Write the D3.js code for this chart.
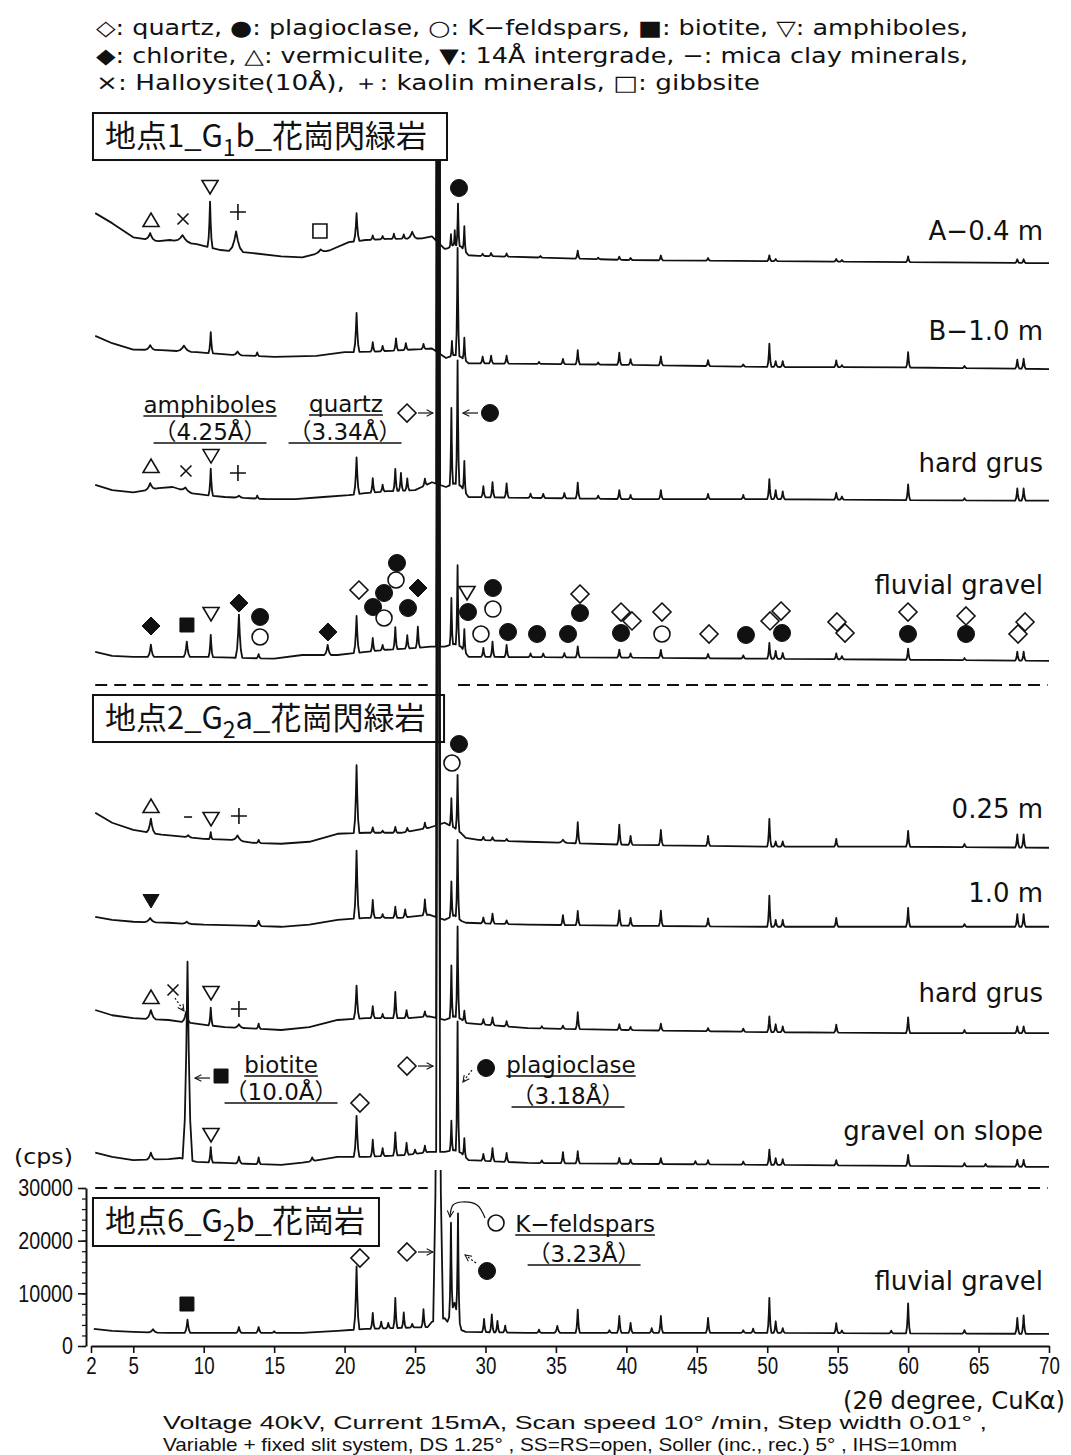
<!DOCTYPE html>
<html>
<head>
<meta charset="utf-8">
<title>XRD patterns</title>
<script src="https://cdn.jsdelivr.net/npm/d3@7/dist/d3.min.js"></script>
<style>
  html, body { margin: 0; padding: 0; background: #fff; }
  svg { display: block; }
</style>
</head>
<body>
<svg id="xrd" width="1071" height="1455"></svg>
<script>
// ---------- axis ticks ----------
const twoThetaTicks = [2, 5, 10, 15, 20, 25, 30, 35, 40, 45, 50, 55, 60, 65, 70];
const cpsTicks = [0, 10000, 20000, 30000];
const cpsMinorTicks = d3.range(0, 30001, 2000);

// ---------- samples (top to bottom) ----------
const sampleLabels = ["A−0.4 m", "B−1.0 m", "hard grus", "fluvial gravel",
                      "0.25 m", "1.0 m", "hard grus", "gravel on slope", "fluvial gravel"];
const sampleOffsets = [203300, 183200, 158300, 127800, 92300, 77300, 57100, 31700, 0];
const samplePanel = [0, 0, 0, 0, 1, 1, 1, 1, 2];

// background levels [2θ, cps]
const bgA = [[2.3,11800],[3.5,9900],[5.0,7200],[6.8,6500],[7.6,6700],[9.5,5900],[11.2,4800],[13.5,4200],[15.5,3600],[17.0,3400],[19.0,4800],[20.3,6300],[21.5,6700],[23.0,6900],[25.5,7000],[26.2,7400],[27.1,5000],[27.3,5100],[27.75,5800],[28.25,5500],[28.8,3800],[29.5,3700],[40,2900],[50,2700],[60,2500],[70,2300]];
const bgB = [[2.3,8600],[3.5,7200],[5.0,6000],[7.0,5900],[9.5,5500],[12,5000],[15,4600],[18,4800],[20,5500],[22,5600],[26.2,6200],[27.2,4400],[27.8,5000],[28.25,4600],[28.8,3400],[40,3100],[50,2700],[60,2600],[70,2300]];
const bgC = [[2.3,5200],[3.5,4200],[5.0,3800],[6.8,4600],[7.8,4800],[9.2,3600],[10.2,3250],[11.5,2900],[14.5,2500],[16.5,2500],[18.5,2900],[20.3,3250],[21.3,3600],[23.0,4000],[25.0,4200],[26.2,5700],[27.2,4800],[27.8,5500],[28.25,5000],[28.8,2900],[40,2500],[50,2500],[60,2300],[70,2200]];
const bgD = [[2.3,4000],[3.5,3250],[5,3060],[10,3060],[12,2900],[15,2700],[17,3400],[19.5,3400],[21.5,4000],[23,4400],[25.3,4800],[26.1,5000],[27.1,5000],[27.8,5500],[28.25,5000],[28.8,3060],[40,2900],[50,2700],[60,2500],[70,2300]];
const bgE = [[2.3,8950],[3.5,7050],[5.0,5700],[7.0,4800],[8.5,4400],[10.0,4000],[12.0,3800],[13.5,3250],[15.5,3060],[17.5,3440],[19.5,4960],[21.5,5150],[24,5150],[26.0,6100],[27.1,7050],[27.8,6100],[28.3,5000],[28.6,4200],[29.5,3800],[33,3440],[40,2870],[50,2500],[60,2500],[70,2300]];
const bgF = [[2.3,4200],[3.5,3600],[5.0,3250],[7.5,3060],[10,2700],[13,2500],[15.5,2300],[17.5,2700],[19.5,3600],[21.5,4000],[24,4000],[26,4600],[27.1,3600],[27.8,4500],[28.3,3400],[28.6,3060],[33,2700],[40,2500],[50,2300],[70,2300]];
const bgG = [[2.3,6700],[3.5,5700],[5.0,5150],[7.5,4800],[9.7,4000],[11.5,3440],[13.0,3250],[15.5,2900],[17.5,3440],[19.5,4800],[21.5,5150],[24.5,5150],[26.0,5500],[27.1,4800],[27.8,5500],[28.25,5000],[28.7,4200],[33,3250],[40,2900],[50,2500],[60,2300],[70,2300]];
const bgH = [[2.3,5000],[3.5,4200],[5.0,3600],[7.5,3800],[8.3,4000],[9.5,3250],[11.5,3060],[13,2900],[15.5,2700],[17.0,3100],[19.5,4200],[21.5,4200],[24.5,4600],[26.0,5150],[27.1,5150],[27.8,5500],[28.25,5000],[28.8,3600],[33,3060],[40,2900],[50,2700],[60,2500],[70,2300]];
const bgI = [[2.2,3250],[3.5,2870],[5.0,2680],[7.5,2500],[17,2500],[19.5,2870],[21.5,3250],[24,3440],[25.9,3600],[26.2,4600],[27.1,5300],[27.3,4600],[27.8,8200],[28.3,3000],[28.6,2680],[33,2500],[50,2500],[70,2300]];

// diffraction peaks [2θ, height above background (cps), half base width (°)]
const pkA = [[6.2,1300,0.35],[8.5,1300,0.6],[10.45,8700,0.18],[12.3,3800,0.5],[18.3,600,0.4],[20.85,5300,0.2],[22.0,800],[22.7,600],[23.5,1000],[24.2,800],[24.8,1300,0.35],[26.64,400000,0.14],[27.55,2300,0.1],[27.82,2800,0.08],[28.05,8000,0.12],[28.5,4600,0.12],[29.8,400],[30.4,600],[31.5,600],[33.9,300],[36.55,1500],[38.0,300],[39.5,600],[40.3,400],[42.45,900],[45.8,500],[50.15,1100],[50.6,400],[54.9,500],[55.3,300],[60.0,1100],[67.75,700],[68.2,700]];
const pkB = [[6.2,900,0.35],[8.6,1100,0.5],[10.5,4000,0.16],[12.4,700,0.3],[13.8,700],[20.85,7400,0.2],[22.0,1800],[22.7,1000],[23.65,2300],[24.35,1300],[25.6,950],[26.64,400000,0.14],[27.62,2800,0.1],[28.02,20500,0.13],[28.5,4200,0.12],[29.8,1300],[30.4,1500],[31.5,1500],[33.8,400],[35.5,1000],[36.55,2700],[38.0,400],[39.5,2300],[40.3,1100],[42.45,1700],[45.8,1100],[48.3,400],[50.15,4400],[50.6,1100],[51.1,1100],[54.9,1300],[55.3,400],[60.0,2900],[64.0,400],[67.75,1700],[68.2,1900]];
const pkC = [[6.2,1200,0.35],[8.7,700,0.4],[10.5,5100,0.16],[12.5,400,0.3],[13.8,600],[20.85,7000,0.2],[22.0,2700],[22.7,1300],[23.6,4200],[24.0,3400],[24.45,2300],[25.7,1300],[26.64,400000,0.14],[27.58,14600,0.12],[28.02,23600,0.13],[28.5,5700,0.12],[29.85,2100],[30.5,2900],[31.5,2700],[33.2,800],[34.1,800],[35.6,1000],[36.55,3000],[38.0,600],[39.5,1700],[40.3,800],[42.45,1700],[45.8,1000],[48.3,800],[50.15,3800],[50.6,1700],[51.1,1500],[54.9,1300],[55.3,600],[60.0,3000],[64.0,400],[67.75,2300],[68.2,2300]];
const pkD = [[6.25,2300,0.22],[8.8,2900,0.22],[10.5,4200,0.16],[12.5,8200,0.24],[13.9,800],[18.8,1900,0.24],[20.85,7000,0.2],[22.0,2500],[22.7,1000],[23.6,4200],[24.45,2500],[25.2,4000],[26.64,400000,0.14],[27.58,8900,0.12],[28.02,15200,0.13],[28.5,4200,0.12],[29.85,1700],[30.5,2900],[31.5,2300],[33.2,700],[34.1,700],[35.6,800],[36.55,2100],[39.5,1500],[40.3,800],[42.45,1500],[45.8,800],[48.3,600],[50.15,3000],[50.6,1500],[51.1,1100],[54.9,1100],[55.3,600],[60.0,2100],[64.0,400],[67.75,1700],[68.2,1700]];
const pkE = [[6.25,2700,0.3],[8.9,400,0.25],[10.5,1300,0.12],[12.4,1000,0.4],[13.9,600],[20.85,12900,0.2],[22.0,1000],[22.7,400],[23.6,1100],[24.45,700],[25.7,1100],[26.64,400000,0.14],[27.58,5300,0.12],[28.02,10500,0.13],[29.85,600],[30.5,600],[31.5,400],[35.5,600,0.3],[36.55,4000],[39.5,3800],[40.3,1700],[42.45,2900],[45.8,1900],[50.15,5300],[50.6,1000],[51.1,1000],[54.9,1500],[60.0,3000],[64.0,600],[67.75,2500],[68.2,2500]];
const pkF = [[6.2,800,0.4],[8.8,400,0.3],[13.9,1000,0.2],[20.85,12900,0.2],[22.0,3400],[22.7,700],[23.6,2100],[24.3,1500],[25.7,3000],[26.64,400000,0.14],[27.58,6700,0.12],[28.02,14800,0.13],[29.85,1100],[30.5,1900],[31.5,700],[35.5,1900],[36.55,2700],[39.5,2900],[40.3,1500],[42.45,2900],[45.8,1500],[50.15,5900],[50.6,1300],[51.1,1300],[54.9,1700],[60.0,3600],[64.0,500],[67.75,2400],[68.2,2400]];
const pkG = [[6.25,1700,0.35],[8.75,2000,0.3],[10.5,3400,0.15],[12.5,700,0.3],[13.9,1000],[20.85,6300,0.2],[22.0,2300],[22.7,800],[23.6,5000],[24.4,1500],[25.7,1000],[26.64,400000,0.14],[27.58,9900,0.12],[28.02,17300,0.13],[28.5,2000,0.12],[29.85,1000],[30.5,1500],[31.5,1000],[34.0,400],[35.5,600],[36.55,3200],[39.5,1100],[40.3,600],[42.45,1300],[45.8,600],[48.3,600],[50.15,3000],[50.6,1500],[51.1,1100],[54.9,1500],[60.0,3000],[64.0,600],[67.75,1300],[68.2,1300]];
const pkH = [[6.25,1300,0.3],[8.85,37600,0.35],[10.5,2900,0.15],[12.5,1300,0.2],[13.9,1300],[17.7,700,0.2],[20.85,7800,0.2],[22.0,3200],[22.7,1500],[23.6,4400],[24.4,2300],[25.0,800],[25.7,1300],[26.64,400000,0.14],[27.58,5700,0.12],[28.02,24700,0.13],[28.5,3400,0.12],[29.85,1300],[30.5,2500],[31.5,1700],[34.0,500],[35.5,2100],[36.55,2300],[39.5,1100],[40.3,800],[42.45,1100],[44.9,600],[45.8,800],[48.3,600],[50.15,2900],[50.6,1300],[51.1,1100],[54.9,1000],[60.0,2100],[64.0,600],[65.5,500],[67.75,1300],[68.2,1300]];
const pkI = [[6.4,600,0.3],[8.85,2500,0.2],[12.5,1100,0.18],[13.9,1100,0.18],[15.0,300],[20.85,12000,0.2],[22.0,3000],[22.6,1300],[23.1,1000],[23.6,5700],[24.2,2900],[24.8,700],[25.6,3400],[26.64,120000,0.35],[27.55,17000,0.13],[28.05,19600,0.13],[29.9,2500],[30.45,3400],[30.85,2200],[31.4,1300],[33.8,600],[35.1,1300,0.2],[36.55,4400],[38.8,500],[39.5,3200],[40.3,1900],[41.8,900],[42.45,3200],[45.8,2850],[48.3,500],[49.0,800],[50.15,6650],[50.6,2200],[51.1,900],[54.9,1900],[55.3,500],[58.8,500],[60.0,5700],[64.0,650],[67.75,3000],[68.2,3500]];

const sampleBackgrounds = [bgA, bgB, bgC, bgD, bgE, bgF, bgG, bgH, bgI];
const samplePeaks = [pkA, pkB, pkC, pkD, pkE, pkF, pkG, pkH, pkI];

// upper display limit of each site panel (cps)
const panelClipCps = [225190, 225190, 33400];

// ---------- site panels ----------
const panelPrefix = ["地点1_G", "地点2_G", "地点6_G"];
const panelSub = ["1", "2", "2"];
const panelSuffix = ["b_花崗閃緑岩", "a_花崗閃緑岩", "b_花崗岩"];

// ---------- mineral symbols [kind, 2θ, cps] ----------
const mineralMarks = [
  ["vm",6.26,213790],["hl",8.53,213980],["am",10.45,220060],["ka",12.43,215310],["gb",18.25,211700],["pl",28.12,219870],
  ["vm",6.26,167090],["hl",8.74,166140],["am",10.52,168980],["ka",12.43,165760],["qz",24.43,177150],["pl",30.32,177150],
  ["ch",6.26,136710],["bt",8.81,136900],["am",10.52,138990],["ch",12.5,141070],["pl",14.0,138420],["kf",14.0,134620],
  ["ch",18.82,135570],["qz",21.02,143540],["pl",22.02,140310],["pl",22.8,142970],["kf",22.8,138230],["pl",23.72,148670],
  ["kf",23.65,145440],["pl",24.5,140120],["ch",25.21,143920],["am",28.69,142970],["pl",28.76,139360],["pl",30.53,143920],
  ["kf",30.53,139930],["kf",29.68,135190],["pl",31.6,135570],["pl",33.66,135190],["pl",35.86,135190],["qz",36.71,142780],
  ["pl",36.71,139170],["qz",39.62,139360],["qz",40.4,137660],["pl",39.62,135380],["qz",42.53,139360],["kf",42.53,135190],
  ["qz",45.87,135190],["pl",48.49,135000],["qz",50.2,137660],["qz",50.98,139550],["pl",51.05,135380],["qz",54.95,137470],
  ["qz",55.52,135380],["qz",59.99,139360],["pl",59.99,135190],["qz",64.11,138610],["pl",64.11,135190],["qz",68.3,137470],
  ["qz",67.8,135190],
  ["pl",28.12,114300],["kf",27.62,110690],["vm",6.26,102530],["mc",8.89,100440],["am",10.52,100060],["ka",12.5,100630],
  ["ig",6.26,84490],
  ["vm",6.26,66260],["hl",7.82,67590],["am",10.52,67020],["ka",12.5,63990],
  ["bt",11.23,51260],["am",10.52,40060],["qz",21.09,46140],["qz",24.43,53160],["pl",30.04,52780],
  ["bt",8.81,7970],["qz",21.09,16710],["qz",24.43,17850],["pl",30.11,14240],["kf",30.75,23350]
];

// pointer arrows [2θ from, cps from, 2θ to, cps to, dotted]
const pointerArrows = [
  [25.21,177150,26.28,177150,0],[29.47,177150,28.4,177150,0],
  [10.45,50880,9.38,50880,0],[25.21,53160,26.28,53160,0],[29.04,52400,28.4,50130,1],
  [25.21,17850,26.28,17850,0],[29.33,15760,28.55,17280,1],[7.96,66080,8.6,63610,1]
];
const kfsCurve = [[29.97,24300],[29.4,26770],[28.33,27340],[27.7,26770],[27.48,24490]];

// underlined peak notes [text, 2θ centre, cps baseline]
const peakNotes = [
  ["amphiboles",10.45,177150],["（4.25Å）",10.45,172020],
  ["quartz",20.1,177340],["（3.34Å）",20.03,172020],
  ["biotite",15.49,51830],["（10.0Å）",15.49,46710],
  ["plagioclase",36.07,51830],["（3.18Å）",35.86,45950],
  ["K−feldspars",37.07,21650],["（3.23Å）",37.0,15950]
];

const legendLines = [
  "◇: quartz, ●: plagioclase, ○: K−feldspars, ■: biotite, ▽: amphiboles,",
  "◆: chlorite, △: vermiculite, ▼: 14Å intergrade, −: mica clay minerals,",
  "×: Halloysite(10Å), ＋: kaolin minerals, □: gibbsite"
];
const footLines = [
  "Voltage 40kV, Current 15mA, Scan speed 10°  /min, Step width 0.01°  ,",
  "Variable + fixed slit system, DS 1.25°  , SS=RS=open, Soller (inc., rec.) 5°  , IHS=10mm"
];

// ---------- drawing ----------
const INK = "#111";
const svg = d3.select("#xrd");
const x = d3.scaleLinear().domain([2, 70]).range([91, 1049]);
const y = d3.scaleLinear().domain([0, 30000]).range([1346, 1188]);

const defs = svg.append("defs");
panelClipCps.forEach((c, i) => {
  defs.append("clipPath").attr("id", "clip" + i).append("rect")
    .attr("x", 0).attr("width", 1071).attr("y", y(c)).attr("height", y(0) - y(c) + 40);
});
defs.append("marker").attr("id", "head").attr("viewBox", "0 0 10 10")
  .attr("refX", 9).attr("refY", 5).attr("markerWidth", 8).attr("markerHeight", 8)
  .attr("markerUnits", "userSpaceOnUse").attr("orient", "auto")
  .append("path").attr("d", "M1,1L9,5L1,9").attr("fill", "none")
  .attr("stroke", INK).attr("stroke-width", 1.3);

// squeeze a text element horizontally to a share of its natural width
function condense(sel, share) {
  sel.each(function () {
    const w = this.getComputedTextLength();
    d3.select(this).attr("textLength", w * share).attr("lengthAdjust", "spacingAndGlyphs");
  });
}

// legend
legendLines.forEach((t, i) => {
  svg.append("text").attr("x", 96).attr("y", 35 + i * 27.5)
    .attr("font-family", "DejaVu Sans, sans-serif").attr("font-size", 21)
    .attr("textLength", i === 2 ? 664 : 872).attr("lengthAdjust", "spacingAndGlyphs")
    .attr("fill", INK).text(t);
});

// site boxes
const boxes = [
  {t0: 2.14, t1: 27.27, top: 234110, bot: 225186, base: 227650},
  {t0: 2.14, t1: 27.06, top: 123605, bot: 114681, base: 117150},
  {t0: 2.14, t1: 22.44, top: 28101, bot: 18987, base: 21645}
];
boxes.forEach((b, i) => {
  svg.append("rect").attr("x", x(b.t0)).attr("y", y(b.top))
    .attr("width", x(b.t1) - x(b.t0)).attr("height", y(b.bot) - y(b.top))
    .attr("fill", "#fff").attr("stroke", INK).attr("stroke-width", 2);
  const tx = svg.append("text").attr("x", x(2.99)).attr("y", y(b.base))
    .attr("font-family", "Noto Sans CJK JP, sans-serif").attr("font-size", 31).attr("fill", INK);
  tx.append("tspan").text(panelPrefix[i]);
  tx.append("tspan").attr("font-size", 23).attr("dy", 9).text(panelSub[i]);
  tx.append("tspan").attr("dy", -9).text(panelSuffix[i]);
});

// separators between sites
[125500, 30000].forEach(c => {
  [[2.3, 25.9], [28.05, 69.9]].forEach(([a, b]) => {
    svg.append("line").attr("x1", x(a)).attr("x2", x(b)).attr("y1", y(c)).attr("y2", y(c))
      .attr("stroke", INK).attr("stroke-width", 2).attr("stroke-dasharray", "12,7");
  });
});

// diffraction profiles
const SHAPE = [[-1, 0], [-0.55, 0.2], [-0.25, 0.55], [0, 1], [0.25, 0.55], [0.55, 0.2], [1, 0]];
const DEFAULT_W = 0.15;
function profile(bg, peaks) {
  const base = d3.scaleLinear().domain(bg.map(d => d[0])).range(bg.map(d => d[1])).clamp(true);
  const shapes = peaks.map(([p, h, w = DEFAULT_W]) =>
    d3.scaleLinear().domain(SHAPE.map(s => p + s[0] * w)).range(SHAPE.map(s => s[1] * h)).clamp(true));
  const xs = new Set(bg.map(d => d[0]));
  peaks.forEach(([p, h, w = DEFAULT_W]) => SHAPE.forEach(s => xs.add(+(p + s[0] * w).toFixed(4))));
  const lo = bg[0][0], hi = bg[bg.length - 1][0];
  return Array.from(xs).filter(t => t >= lo && t <= hi).sort((a, b) => a - b)
    .map(t => [t, base(t) + d3.sum(shapes, s => s(t))]);
}
const line = d3.line().x(d => x(d[0])).y(d => y(d[1]));
sampleBackgrounds.forEach((bg, i) => {
  const pts = profile(bg, samplePeaks[i]).map(([t, v]) => [t, v + sampleOffsets[i]]);
  svg.append("path").attr("d", line(pts)).attr("clip-path", `url(#clip${samplePanel[i]})`)
    .attr("fill", "none").attr("stroke", INK).attr("stroke-width", 1.8)
    .attr("stroke-linejoin", "round");
});

// sample names
const labelLevels = [210000, 191010, 165950, 142780, 100250, 84300, 65320, 39110, 10630];
sampleLabels.forEach((s, i) => {
  svg.append("text").attr("x", x(69.58)).attr("y", y(labelLevels[i]))
    .attr("text-anchor", "end").attr("font-family", "DejaVu Sans").attr("font-size", 26)
    .attr("fill", INK).text(s);
});

// mineral symbols
function symbolPath(kind) {
  const p = d3.path();
  switch (kind) {
    case "qz": case "ch": p.moveTo(0, -9); p.lineTo(9, 0); p.lineTo(0, 9); p.lineTo(-9, 0); p.closePath(); break;
    case "pl": case "kf": p.arc(0, 0, kind === "pl" ? 8.5 : 8, 0, 2 * Math.PI); break;
    case "bt": p.rect(-7, -7, 14, 14); break;
    case "gb": p.rect(-7, -7, 14, 14); break;
    case "am": case "ig": p.moveTo(-8, -6.5); p.lineTo(8, -6.5); p.lineTo(0, 7); p.closePath(); break;
    case "vm": p.moveTo(-8, 6.5); p.lineTo(8, 6.5); p.lineTo(0, -7); p.closePath(); break;
    case "hl": p.moveTo(-5.5, -5.5); p.lineTo(5.5, 5.5); p.moveTo(5.5, -5.5); p.lineTo(-5.5, 5.5); break;
    case "ka": p.moveTo(-8, 0); p.lineTo(8, 0); p.moveTo(0, -8); p.lineTo(0, 8); break;
    case "mc": p.moveTo(-4, 0); p.lineTo(4, 0); break;
  }
  return p.toString();
}
const filled = new Set(["pl", "bt", "ch", "ig"]);
mineralMarks.forEach(([k, t, c]) => {
  svg.append("path").attr("d", symbolPath(k))
    .attr("transform", `translate(${x(t)},${y(c)})`)
    .attr("fill", filled.has(k) ? INK : (k === "hl" || k === "ka" || k === "mc" ? "none" : "#fff"))
    .attr("stroke", INK).attr("stroke-width", filled.has(k) ? 1 : 1.6);
});

// pointers
pointerArrows.forEach(([t1, c1, t2, c2, dotted]) => {
  svg.append("line").attr("x1", x(t1)).attr("y1", y(c1)).attr("x2", x(t2)).attr("y2", y(c2))
    .attr("stroke", INK).attr("stroke-width", 1.2)
    .attr("stroke-dasharray", dotted ? "2,2" : null).attr("marker-end", "url(#head)");
});
svg.append("path").attr("d", d3.line().x(d => x(d[0])).y(d => y(d[1])).curve(d3.curveCatmullRom)(kfsCurve))
  .attr("fill", "none").attr("stroke", INK).attr("stroke-width", 1.2).attr("marker-end", "url(#head)");

// underlined notes
peakNotes.forEach(([t, th, c]) => {
  const el = svg.append("text").attr("x", x(th)).attr("y", y(c)).attr("text-anchor", "middle")
    .attr("font-family", "DejaVu Sans, Noto Sans CJK JP").attr("font-size", 23)
    .attr("fill", INK).text(t);
  const w = el.node().getComputedTextLength();
  svg.append("line").attr("x1", x(th) - w / 2).attr("x2", x(th) + w / 2)
    .attr("y1", y(c) + 3).attr("y2", y(c) + 3).attr("stroke", INK).attr("stroke-width", 1.5);
});

// axes
const tickFont = "Liberation Sans, sans-serif";
const xAxis = svg.append("g").attr("transform", `translate(0,${y(0)})`)
  .call(d3.axisBottom(x).tickValues(twoThetaTicks).tickSize(7).tickSizeOuter(0).tickFormat(d3.format("d")));
xAxis.select(".domain").attr("stroke", INK).attr("stroke-width", 2.2);
xAxis.selectAll(".tick line").attr("stroke", INK).attr("stroke-width", 1.6);
xAxis.selectAll(".tick text").attr("font-family", tickFont).attr("font-size", 24)
  .attr("fill", INK).attr("y", 11).call(condense, 0.78);

const yAxisX = x(2) - 5;
const yMinor = svg.append("g").attr("transform", `translate(${yAxisX},0)`)
  .call(d3.axisLeft(y).tickValues(cpsMinorTicks).tickSize(4).tickSizeOuter(0).tickFormat(""));
yMinor.select(".domain").remove();
yMinor.selectAll(".tick line").attr("stroke", INK).attr("stroke-width", 1.2);
const yAxis = svg.append("g").attr("transform", `translate(${yAxisX},0)`)
  .call(d3.axisLeft(y).tickValues(cpsTicks).tickSize(8).tickSizeOuter(0).tickFormat(d3.format("d")));
yAxis.select(".domain").attr("stroke", INK).attr("stroke-width", 2);
yAxis.selectAll(".tick line").attr("stroke", INK).attr("stroke-width", 1.6);
yAxis.selectAll(".tick text").attr("font-family", tickFont).attr("font-size", 24)
  .attr("fill", INK).attr("x", -13).call(condense, 0.82);

svg.append("text").attr("x", 14).attr("y", 1164).attr("font-family", "DejaVu Sans")
  .attr("font-size", 22).attr("textLength", 59).attr("lengthAdjust", "spacingAndGlyphs")
  .attr("fill", INK).text("(cps)");
svg.append("text").attr("x", 1065).attr("y", 1409).attr("text-anchor", "end")
  .attr("font-family", "DejaVu Sans").attr("font-size", 24)
  .attr("textLength", 222).attr("lengthAdjust", "spacingAndGlyphs")
  .attr("fill", INK).text("(2θ degree, CuKα)");

footLines.forEach((t, i) => {
  svg.append("text").attr("x", 163).attr("y", 1429 + i * 22)
    .attr("font-family", tickFont).attr("font-size", 19)
    .attr("textLength", i === 0 ? 824 : 794).attr("lengthAdjust", "spacingAndGlyphs")
    .attr("fill", INK).text(t);
});
</script>
</body>
</html>
